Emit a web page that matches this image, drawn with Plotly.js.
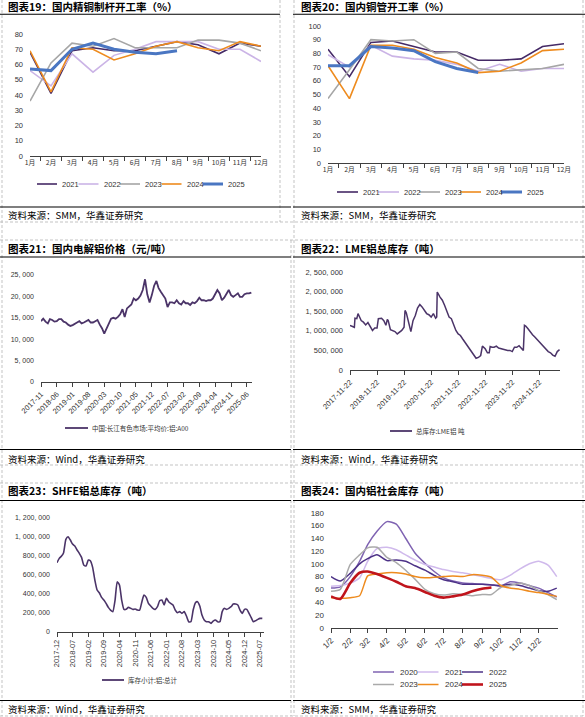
<!DOCTYPE html>
<html><head><meta charset="utf-8">
<script src="https://cdn.plot.ly/plotly-3.0.1.min.js"></script>
<style>html,body{margin:0;padding:0;background:#fff;}#chart{width:585px;height:717px;}</style>
</head><body><div id="chart"></div>
<script>
// ================= DATA =================
const months = ["1月","2月","3月","4月","5月","6月","7月","8月","9月","10月","11月","12月"];
const yearNames = ["2021","2022","2023","2024","2025"];
// 图表19 国内精铜制杆开工率(%)
const rod2021 = [68,41,69,71,69,69,72,75,73,67,74,72];
const rod2022 = [56,46,67,55,66,70,75,75,75,70,70,62];
const rod2023 = [36,61,74,72,77,71,71,71,76,76,74,69];
const rod2024 = [69,42,71,70,63,67,72,75,71,69,75,72];
const rod2025 = [57,56,70,74,70,68,67,69];
// 图表20 国内铜管开工率(%)
const tube2021 = [83,63,88,89,85,81,81,75,75,76,85,87];
const tube2022 = [79,70,86,78,76,75,72,67,72,67,69,69];
const tube2023 = [47,68,90,89,90,80,81,69,67,68,69,72];
const tube2024 = [71,47,86,86,83,77,73,66,67,73,82,83];
const tube2025 = [71,71,85,84,82,74,69,66];
// 图表21 国内电解铝价格(元/吨), monthly from 2017-11
const priceStart = "2017-11";
const alPrice = [14200,14800,
 14100,13700,14700,14500,14100,14200,14700,14700,14100,13900,13400,13100,
 13300,13700,13900,14200,13700,13900,14200,14500,13900,13900,14200,14500,
 13400,12500,11300,12500,13300,14800,15000,14800,15200,15800,17000,15200,
 17200,17600,18100,19500,19100,19500,20200,21500,24000,20500,18600,20300,
 22500,23600,22000,21100,20200,19500,17500,18600,18600,18400,19100,18400,
 18100,18900,18400,18400,18000,18600,18400,18900,19700,19100,19100,18900,
 19100,19100,19500,20700,21500,20700,19100,19700,20500,21500,20300,19900,
 20300,20700,19900,19900,20500,20700,20700,20900];
const priceTickLabels = ["2017-11","2018-06","2019-01","2019-08","2020-03","2020-10","2021-05","2021-12","2022-07","2023-02","2023-09","2024-04","2024-11","2025-06"];
const priceSeriesName = "中国:长江有色市场:平均价:铝:A00";
// 图表22 LME铝总库存(吨)
const lmeDates = ["2017-11-22","2017-12-22","2018-01-20","2018-01-28","2018-02-22","2018-03-10","2018-03-22","2018-04-22","2018-05-22","2018-06-22","2018-07-22","2018-08-22","2018-09-22","2018-10-22","2018-11-22","2018-12-10","2019-01-22","2019-02-22","2019-03-22","2019-04-10","2019-04-22","2019-05-22","2019-06-22","2019-07-22","2019-08-22","2019-09-22","2019-10-22","2019-11-22","2019-12-05","2019-12-22","2020-01-22","2020-02-22","2020-03-22","2020-04-22","2020-05-22","2020-06-22","2020-07-22","2020-08-22","2020-09-22","2020-10-22","2020-11-22","2020-12-22","2021-01-22","2021-02-05","2021-02-12","2021-03-22","2021-04-22","2021-05-22","2021-06-22","2021-07-22","2021-08-22","2021-09-22","2021-10-22","2021-11-22","2021-12-22","2022-01-22","2022-02-22","2022-03-22","2022-04-22","2022-05-22","2022-06-22","2022-07-22","2022-08-22","2022-09-22","2022-10-15","2022-11-22","2022-12-22","2023-01-15","2023-01-28","2023-02-22","2023-03-22","2023-04-22","2023-05-22","2023-06-22","2023-07-22","2023-08-22","2023-09-22","2023-10-22","2023-11-22","2023-12-22","2024-01-22","2024-02-22","2024-03-22","2024-04-20","2024-05-05","2024-05-22","2024-06-22","2024-07-22","2024-08-22","2024-09-22","2024-10-22","2024-11-22","2024-12-22","2025-01-22","2025-02-22","2025-03-22","2025-04-22","2025-05-22","2025-06-22","2025-07-22","2025-08-22"];
const lmeStock = [1140000,1110000,1090000,1320000,1310000,1440000,1390000,1260000,1220000,1150000,1210000,1090000,1010000,1070000,1070000,1310000,1320000,1260000,1140000,1290000,1260000,1030000,1010000,980000,920000,970000,1010000,1090000,1520000,1460000,1220000,980000,1260000,1390000,1580000,1670000,1610000,1520000,1440000,1410000,1350000,1440000,1320000,1350000,1990000,1860000,1780000,1650000,1520000,1350000,1310000,1140000,1010000,920000,880000,790000,710000,620000,560000,470000,380000,300000,320000,370000,610000,540000,440000,440000,600000,580000,580000,610000,560000,540000,520000,510000,500000,500000,470000,580000,580000,620000,560000,500000,1140000,1120000,1050000,970000,900000,840000,780000,710000,670000,610000,540000,470000,440000,380000,350000,470000,520000];
const lmeTickLabels = ["2017-11-22","2018-11-22","2019-11-22","2020-11-22","2021-11-22","2022-11-22","2023-11-22","2024-11-22"];
const lmeSeriesName = "总库存:LME铝 吨";
// 图表23 SHFE铝总库存(吨), monthly from 2017-12
const shfeStart = "2017-12";
const shfeStock = [726000,
 772000,796000,832000,972000,1000000,965000,923000,902000,860000,825000,782000,702000,
 691000,754000,747000,677000,544000,439000,410000,361000,333000,298000,256000,228000,
 211000,333000,526000,491000,333000,235000,235000,256000,246000,235000,239000,228000,
 228000,316000,386000,361000,298000,270000,246000,235000,263000,326000,333000,281000,
 351000,316000,298000,281000,228000,200000,211000,193000,211000,165000,105000,105000,
 228000,305000,316000,270000,175000,123000,105000,105000,88000,112000,123000,105000,
 105000,211000,246000,235000,246000,263000,291000,291000,281000,228000,193000,235000,
 235000,193000,151000,105000,116000,130000,140000,140000];
const shfeTickLabels = ["2017-12","2018-07","2019-02","2019-09","2020-04","2020-11","2021-06","2022-01","2022-08","2023-03","2023-10","2024-05","2024-12","2025-07"];
const shfeSeriesName = "库存小计:铝:总计";
// 图表24 国内铝社会库存
const socDays = ["01-02","01-17","02-02","02-17","03-02","03-17","04-02","04-17","05-02","05-17","06-02","06-17","07-02","07-17","08-02","08-17","09-02","09-17","10-02","10-17","11-02","11-17","12-02","12-17","12-31"];
const socNames = ["2020","2021","2022","2023","2024","2025"];
const soc2020 = [62,64,80,104,130,151,166,162,140,117,101,88,78,73,70,69,68,67,65,72,70,66,62,55,48];
const soc2021 = [65,66,70,78,104,124,126,122,114,106,99,95,91,88,86,83,80,77,75,82,92,100,104,98,80];
const soc2022 = [80,73,85,100,108,114,105,106,104,97,90,82,75,72,68,68,68,67,66,68,66,62,58,57,62];
const soc2023 = [57,60,99,114,125,126,110,102,90,76,60,53,51,53,52,50,52,52,63,66,70,66,58,52,44];
const soc2024 = [47,46,47,50,81,84,86,86,84,80,78,79,80,81,80,83,82,79,66,62,60,57,55,52,49];
const soc2025 = [49,45,70,86,88,84,78,72,65,62,56,50,47,49,52,57,61,63];
const socTickLabels = ["1/2","2/2","3/2","4/2","5/2","6/2","7/2","8/2","9/2","10/2","11/2","12/2"];

// ================= HELPERS =================
const W = 585, H = 717;
const px = x => x / W;
const py = y => 1 - y / H;
function monthSeq(start, n) {
  let [y, m] = start.split("-").map(Number);
  const out = [];
  for (let i = 0; i < n; i++) {
    out.push(y + "-" + String(m).padStart(2, "0") + "-01");
    m++; if (m > 12) { m = 1; y++; }
  }
  return out;
}
const fmt = v => v.toLocaleString("en-US").replace(/,/g, ", ");
const NUM = "Liberation Sans, Arial, sans-serif";
const CJK = "Noto Sans CJK SC, sans-serif";
const AX = "#404040";

const yearStyles = [
  {color:"#452A66", width:1.6},
  {color:"#CBB4E6", width:1.6},
  {color:"#A6A6A6", width:1.6},
  {color:"#EE8B1E", width:1.6},
  {color:"#4A76C2", width:3}
];
const socStyles = [
  {color:"#7F63B2", width:1.5},
  {color:"#D0BAEC", width:1.5},
  {color:"#4D3287", width:1.5},
  {color:"#AAAAAA", width:1.5},
  {color:"#EE8B1E", width:1.5},
  {color:"#C0141C", width:2.6}
];
const tsStyle = {color:"#4B3468", width:1.8};

// ================= TRACES =================
const traces = [];
[rod2021, rod2022, rod2023, rod2024, rod2025].forEach((arr, i) => traces.push({
  type:"scatter", mode:"lines", x: months.slice(0, arr.length), y: arr, name: yearNames[i],
  line: yearStyles[i], xaxis:"x", yaxis:"y", showlegend:false }));
[tube2021, tube2022, tube2023, tube2024, tube2025].forEach((arr, i) => traces.push({
  type:"scatter", mode:"lines", x: months.slice(0, arr.length), y: arr, name: yearNames[i],
  line: yearStyles[i], xaxis:"x2", yaxis:"y2", showlegend:false }));
traces.push({type:"scatter", mode:"lines", x: monthSeq(priceStart, alPrice.length), y: alPrice,
  name: priceSeriesName, line: tsStyle, xaxis:"x3", yaxis:"y3", showlegend:false});
traces.push({type:"scatter", mode:"lines", x: lmeDates, y: lmeStock,
  name: lmeSeriesName, line: {color:tsStyle.color, width:1.5}, xaxis:"x4", yaxis:"y4", showlegend:false});
traces.push({type:"scatter", mode:"lines", x: monthSeq(shfeStart, shfeStock.length), y: shfeStock,
  name: shfeSeriesName, line: {color:tsStyle.color, width:1.6, shape:"spline", smoothing:0.5}, xaxis:"x5", yaxis:"y5", showlegend:false});
[soc2020, soc2021, soc2022, soc2023, soc2024, soc2025].forEach((arr, i) => traces.push({
  type:"scatter", mode:"lines", x: socDays.slice(0, arr.length).map(d => "2001-" + d), y: arr,
  name: socNames[i], line: Object.assign({shape:"spline", smoothing:0.6}, socStyles[i]),
  xaxis:"x6", yaxis:"y6", showlegend:false }));

// ================= AXES =================
function xBase(dom, anchor) {
  return {domain:[px(dom[0]), px(dom[1])], anchor, showline:true, linecolor:AX, linewidth:1,
    ticks:"outside", ticklen:4, tickcolor:AX, tickwidth:1, showgrid:false, zeroline:false,
    tickfont:{size:7.5, color:"#333", family:NUM}, fixedrange:true};
}
function yBase(dom, anchor, range, vals, textFn, size) {
  return {domain:[py(dom[1]), py(dom[0])], anchor, range, tickvals: vals, ticktext: vals.map(textFn),
    showline:false, showgrid:false, zeroline:false, ticks:"", ticklabelstandoff:6,
    tickfont:{size: size, color:"#333", family:NUM}, fixedrange:true};
}
const seq = (a, b, s) => { const o = []; for (let v = a; v <= b + 1e-9; v += s) o.push(v); return o; };

const layout = {
  width: W, height: H, margin:{l:0, r:0, t:0, b:0},
  paper_bgcolor:"#fff", plot_bgcolor:"rgba(0,0,0,0)", showlegend:false,
  font:{family: NUM + ", " + CJK, color:"#333"},
  xaxis: Object.assign(xBase([30,261], "y"), {type:"category", tickson:"boundaries", categoryarray: months, tickangle:0, tickfont:{size:6.8, color:"#333", family:CJK}}),
  yaxis: yBase([34,156], "x", [0,80], seq(0,80,10), String, 7.5),
  xaxis2: Object.assign(xBase([328,564], "y2"), {type:"category", tickson:"boundaries", categoryarray: months, tickangle:0, tickfont:{size:6.8, color:"#333", family:CJK}}),
  yaxis2: yBase([26,163], "x2", [0,100], seq(0,100,10), String, 7.5),
  xaxis3: Object.assign(xBase([41,252], "y3"), {type:"date", range:["2017-11-01","2025-08-10"],
    tickvals: priceTickLabels, ticktext: priceTickLabels, tickangle:-45}),
  yaxis3: yBase([275,382], "x3", [0,25000], seq(0,25000,5000), fmt, 7),
  xaxis4: Object.assign(xBase([350,560], "y4"), {type:"date", range:["2017-11-22","2025-08-28"],
    tickvals: lmeTickLabels, ticktext: lmeTickLabels, tickangle:-45}),
  yaxis4: yBase([272,370], "x4", [0,2500000], seq(0,2500000,500000), fmt, 7.5),
  xaxis5: Object.assign(xBase([57,264], "y5"), {type:"date", range:["2017-12-01","2025-08-24"],
    tickvals: shfeTickLabels, ticktext: shfeTickLabels, tickangle:-90}),
  yaxis5: yBase([517.7,631.7], "x5", [0,1200000], seq(0,1200000,200000), fmt, 7),
  xaxis6: Object.assign(xBase([331,558], "y6"), {type:"date", range:["2001-01-02","2002-01-02"],
    tickvals: socTickLabels.map(t => "2001-" + t.split("/")[0].padStart(2,"0") + "-02"),
    ticktext: socTickLabels, tickangle:-45, tickfont:{size:8, color:"#333", family:NUM}}),
  yaxis6: yBase([512.7,627.7], "x6", [0,180], seq(0,180,20), String, 8),
  shapes: [], annotations: []
};

// ================= FRAME, TITLES, SOURCES =================
const dashC = "#B4B4B4";
function hline(y, x0, x1, color, width, dash) {
  layout.shapes.push({type:"line", xref:"paper", yref:"paper", x0:px(x0), x1:px(x1), y0:py(y), y1:py(y),
    line:{color, width, dash: dash || "solid"}});
}
function vline(x, y0, y1, color, width, dash) {
  layout.shapes.push({type:"line", xref:"paper", yref:"paper", x0:px(x), x1:px(x), y0:py(y0), y1:py(y1),
    line:{color, width, dash: dash || "solid"}});
}
// dashed panel frames
vline(2, 0, 716, dashC, 0.8, "3px,2px");
vline(280, 0, 222, dashC, 0.8, "3px,2px");
vline(291, 240, 716, dashC, 0.8, "3px,2px");
vline(294, 0, 716, dashC, 0.8, "3px,2px");
vline(583, 0, 716, dashC, 0.8, "3px,2px");
hline(222, 0, 585, dashC, 0.8, "3px,2px");
hline(240, 0, 585, dashC, 0.8, "3px,2px");
hline(465, 0, 585, dashC, 0.8, "3px,2px");
hline(483, 0, 585, dashC, 0.8, "3px,2px");
hline(716, 0, 585, dashC, 0.8, "3px,2px");
// solid title / source rules
[[14.3, 207], [257, 449.5], [500.5, 700.5]].forEach(([t, s], r) => {
  hline(t, 0, r === 0 ? 280 : 291, "#000", 1.1);
  hline(t, 293, 585, "#000", 1.1);
  hline(s, 0, 291, "#000", 1.1);
  hline(s, 293, 585, "#000", 1.1);
});
function text(str, x, y, size, family, opts) {
  layout.annotations.push(Object.assign({text:str, xref:"paper", yref:"paper", x:px(x), y:py(y),
    xanchor:"left", yanchor:"middle", showarrow:false, font:{size, family, color:"#000"}}, opts || {}));
}
const titles = [
  ["图表19：国内精铜制杆开工率（%）", 6, 6.5],
  ["图表20：国内铜管开工率（%）", 299, 6.5],
  ["图表21：国内电解铝价格（元/吨）", 6, 248.5],
  ["图表22：LME铝总库存（吨）", 299, 248.5],
  ["图表23：SHFE铝总库存（吨）", 6, 491],
  ["图表24：国内铝社会库存（吨）", 299, 491]
];
titles.forEach(([t, x, y]) => text("<b>" + t + "</b>", x, y, 10.5, CJK));
const sources = [
  ["资料来源：SMM，华鑫证券研究", 6, 215],
  ["资料来源：SMM，华鑫证券研究", 299, 215],
  ["资料来源：Wind，华鑫证券研究", 6, 458.5],
  ["资料来源：Wind，华鑫证券研究", 299, 458.5],
  ["资料来源：Wind，华鑫证券研究", 6, 709],
  ["资料来源：SMM，华鑫证券研究", 299, 709]
];
sources.forEach(([t, x, y]) => text(t, x, y, 9.5, CJK));

// ================= LEGENDS (drawn manually) =================
function legendItem(name, style, x, y, len, gap, size, family) {
  layout.shapes.push({type:"line", xref:"paper", yref:"paper", x0:px(x), x1:px(x + len), y0:py(y), y1:py(y),
    line:{color: style.color, width: style.width}});
  text(name, x + len + gap, y, size, family, {font:{size, family, color:"#333"}});
}
yearNames.forEach((n, i) => legendItem(n, yearStyles[i], 37 + 41.5 * i, 184, 20, 3, 7.5, NUM));
yearNames.forEach((n, i) => legendItem(n, yearStyles[i], 337 + 41 * i, 192, 21, 3, 7.5, NUM));
legendItem(priceSeriesName, tsStyle, 65, 428, 23, 2, 6.5, CJK);
legendItem(lmeSeriesName, tsStyle, 390, 431, 22, 2, 6.5, CJK);
legendItem(shfeSeriesName, tsStyle, 102, 680, 22, 2, 6.5, CJK);
socNames.forEach((n, i) => legendItem(n, socStyles[i], 373 + 44.5 * (i % 3), i < 3 ? 672 : 684.5, 21, 4, 8, NUM));

Plotly.newPlot("chart", traces, layout, {staticPlot:true, displayModeBar:false});
</script></body></html>
